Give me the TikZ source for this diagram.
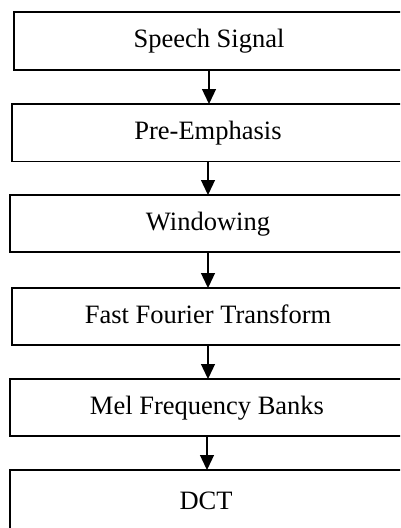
\documentclass[tikz,border=0pt]{standalone}
\usepackage{fontspec}
\setmainfont{Liberation Serif}
\usetikzlibrary{arrows.meta}
\begin{document}
\begin{tikzpicture}[x=1pt,y=-1pt,
  box/.style={draw, line width=1.3pt, rectangle, inner sep=0pt, outer sep=0pt},
  boxtext/.style={inner sep=0pt, outer sep=0pt,
    font=\fontsize{26.5}{30}\selectfont, text height=19pt, text depth=6pt},
  flow/.style={line width=1.3pt, -{Triangle[length=15pt,width=14pt]}}]
\useasboundingbox (0,0) rectangle (400,528);
\clip (0,0) rectangle (400,528);
\node[box, minimum width=416pt, minimum height=58pt,
  label={[boxtext, name=st, xshift=-13pt]center:Speech Signal}] (s) at (222,41) {};
\node[box, minimum width=418pt, minimum height=57.5pt,
  label={[boxtext, name=pt, xshift=-13pt]center:Pre-Emphasis}] (p) at (221,132.75) {};
\node[box, minimum width=420pt, minimum height=57pt,
  label={[boxtext, name=wt, xshift=-12pt]center:Windowing}] (w) at (220,223.5) {};
\node[box, minimum width=418pt, minimum height=57pt,
  label={[boxtext, name=ft, xshift=-13pt]center:Fast Fourier Transform}] (f) at (221,316.5) {};
\node[box, minimum width=420pt, minimum height=57pt,
  label={[boxtext, name=mt, xshift=-13pt]center:Mel Frequency Banks}] (m) at (220,407.5) {};
\node[box, minimum width=420pt, minimum height=70pt,
  label={[boxtext, name=dt, xshift=-14pt, yshift=2.5pt]center:DCT}] (d) at (220,505) {};
\draw[flow] (st |- s.south) -- (st |- p.north);
\draw[flow] (pt |- p.south) -- (pt |- w.north);
\draw[flow] (wt |- w.south) -- (wt |- f.north);
\draw[flow] (ft |- f.south) -- (ft |- m.north);
\draw[flow] (mt |- m.south) -- (mt |- d.north);
\end{tikzpicture}
\end{document}
